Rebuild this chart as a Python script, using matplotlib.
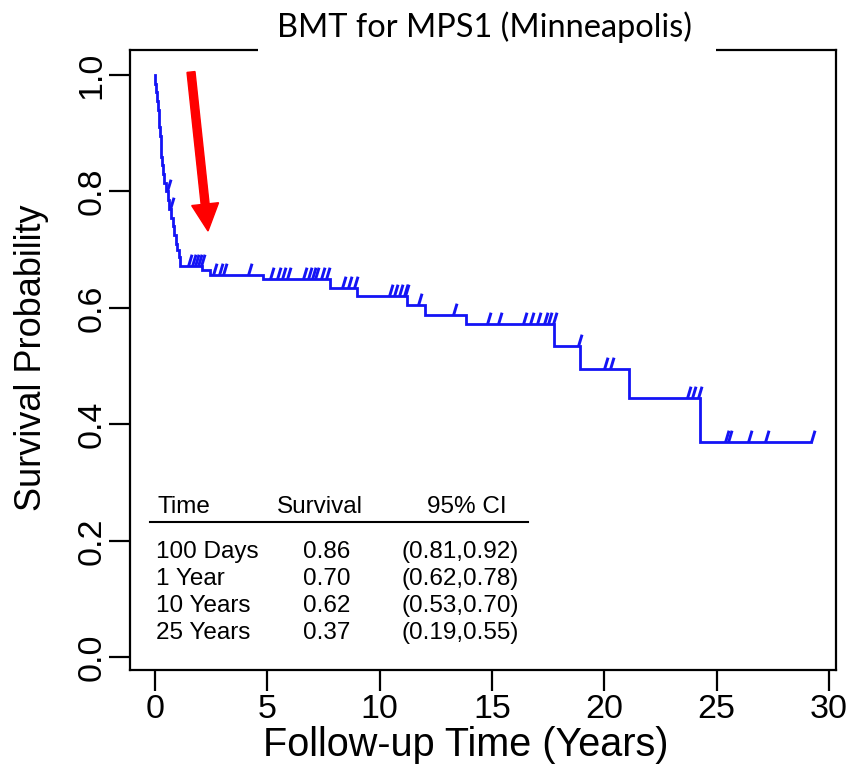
import matplotlib
matplotlib.use("Agg")
import numpy as np
import matplotlib.pyplot as plt
from matplotlib.path import Path
from matplotlib.patches import FancyArrow, Rectangle
from matplotlib.transforms import IdentityTransform

# ---- Kaplan-Meier estimate: event times (years) and survival just after each event
event_times = [0.02, 0.05, 0.09, 0.13, 0.16, 0.19, 0.22, 0.26, 0.28, 0.33, 0.37,
               0.42, 0.47, 0.58, 0.64, 0.72, 0.80, 0.86, 0.93, 0.99, 1.05, 1.12,
               2.10, 2.45, 4.80, 7.80, 9.00, 11.20, 12.00, 13.85, 17.75, 18.90,
               21.10, 24.25]
survival = [0.985, 0.970, 0.955, 0.940, 0.925, 0.910, 0.895, 0.875, 0.860, 0.845,
            0.830, 0.815, 0.800, 0.785, 0.770, 0.755, 0.740, 0.725, 0.710, 0.700,
            0.687, 0.672, 0.665, 0.657, 0.649, 0.635, 0.620, 0.605, 0.588, 0.572,
            0.534, 0.495, 0.445, 0.370]

# censored follow-up times (years)
censor_times = [0.53, 0.68, 1.47, 1.63, 1.79, 1.93, 2.05, 2.60, 2.85, 3.05, 4.15,
                5.13, 5.43, 5.65, 5.88, 6.60, 6.83, 7.00, 7.14, 7.37, 7.60, 8.33,
                8.60, 8.85, 10.40, 10.63, 10.85, 11.07, 11.15, 11.70, 13.25, 14.80,
                15.25, 16.40, 16.70, 17.00, 17.30, 17.50, 17.70, 18.85, 20.00,
                20.24, 23.66, 23.88, 24.18, 25.37, 25.50, 26.40, 27.15, 29.20]

# summary table
table_header = ["Time", "Survival", "95% CI"]
table_time = ["100 Days", "1 Year", "10 Years", "25 Years"]
table_surv = ["0.86", "0.70", "0.62", "0.37"]
table_ci = ["(0.81,0.92)", "(0.62,0.78)", "(0.53,0.70)", "(0.19,0.55)"]

x_ticks = [0, 5, 10, 15, 20, 25, 30]
y_ticks = [0.0, 0.2, 0.4, 0.6, 0.8, 1.0]

title = "BMT for MPS1 (Minneapolis)"
xlabel = "Follow-up Time (Years)"
ylabel = "Survival Probability"

BLUE = "#1414f5"
SANS = "Liberation Sans"

W, H = 850, 768
fig = plt.figure(figsize=(W / 100, H / 100), dpi=100)
ax = fig.add_axes([130 / W, 1 - 670 / H, (836 - 130) / W, (670 - 50) / H])
ax.set_xlim(-1.11, 30.31)
ax.set_ylim(-0.022, 1.043)

# survival step curve
end_time = max(censor_times)
t = np.concatenate([[0.0], event_times, [end_time]])
s = np.concatenate([[1.0], survival, [survival[-1]]])
ax.step(t, s, where="post", color=BLUE, lw=2.0, solid_joinstyle="miter")

# censoring marks: short slanted strokes rising from the curve
ev = np.asarray(event_times)
sv = np.asarray(survival)
idx = np.searchsorted(ev, censor_times, side="right")
cens_s = np.where(idx == 0, 1.0, sv[np.maximum(idx - 1, 0)])
tick_mark = Path([(0.0, 0.0), (0.3, 1.0)], [Path.MOVETO, Path.LINETO])
ax.plot(censor_times, cens_s, linestyle="none", marker=tick_mark,
        markersize=17, markeredgewidth=2.1, markerfacecolor="none",
        markeredgecolor=BLUE)

# axes styling
for sp in ax.spines.values():
    sp.set_linewidth(1.6)
    sp.set_color("black")
ax.set_xticks(x_ticks)
ax.set_xticklabels([str(v) for v in x_ticks])
ax.set_yticks(y_ticks)
ax.set_yticklabels([f"{v:.1f}" for v in y_ticks])
ax.tick_params(direction="out", length=15, width=1.6, labelsize=24.5)
ax.tick_params(axis="x", pad=2)
ax.tick_params(axis="y", pad=1)
for lbl in ax.get_xticklabels() + ax.get_yticklabels():
    lbl.set_family(SANS)
for lbl in ax.get_yticklabels():
    lbl.set_rotation(90)
    lbl.set_va("center")

fig.text(466 / W, 1 - 745 / H, xlabel, ha="center", va="center",
         fontsize=28.5, family=SANS)
fig.text(32 / W, 1 - 358 / H, ylabel, ha="center", va="center",
         rotation=90, fontsize=26, family=SANS)

# summary table inside the plot
tfs = 17.5
y_head, y_rule = 0.258, 0.232
row_y = [0.180, 0.134, 0.0876, 0.041]
ax.text(0.1, y_head, table_header[0], ha="left", va="center", fontsize=tfs, family=SANS)
ax.text(7.34, y_head, table_header[1], ha="center", va="center", fontsize=tfs, family=SANS)
ax.text(13.9, y_head, table_header[2], ha="center", va="center", fontsize=tfs, family=SANS)
ax.plot([-0.22, 16.6], [y_rule, y_rule], color="black", lw=1.5)
for y, a, b, c in zip(row_y, table_time, table_surv, table_ci):
    ax.text(0.04, y, a, ha="left", va="center", fontsize=tfs, family=SANS)
    ax.text(7.65, y, b, ha="center", va="center", fontsize=tfs, family=SANS)
    ax.text(13.6, y, c, ha="center", va="center", fontsize=tfs, family=SANS)

# title on a white band over the top of the frame
fig.add_artist(Rectangle((258 / W, 1 - 60 / H), 458 / W, 60 / H,
                         transform=fig.transFigure, facecolor="white",
                         edgecolor="none", zorder=5))
fig.text(484 / W, 1 - 27 / H, title, ha="center", va="center",
         fontsize=23.4, family="Lato", zorder=6)

# red pointer arrow
fig.add_artist(FancyArrow(191, H - 72, 17, -(231 - 72), width=8,
                          head_width=27, head_length=27,
                          length_includes_head=True, color="#ff0000",
                          transform=IdentityTransform(), zorder=7))

fig.savefig("out.png", dpi=100)
